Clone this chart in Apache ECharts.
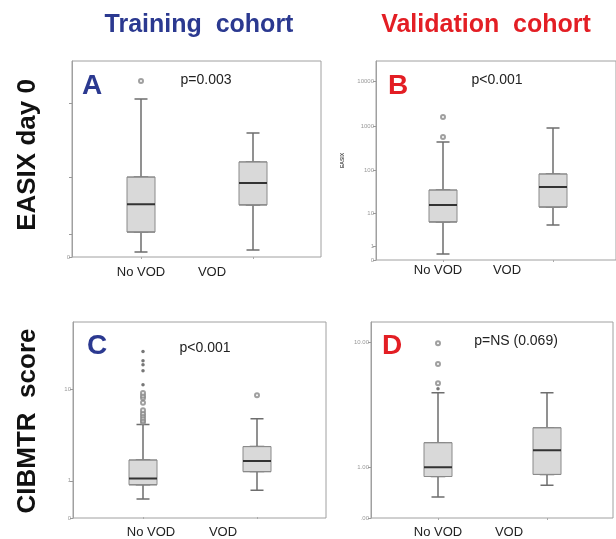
<!DOCTYPE html>
<html>
<head>
<meta charset="utf-8">
<script src="https://cdn.jsdelivr.net/npm/echarts@6/dist/echarts.min.js"></script>
<style>
html,body{margin:0;padding:0;background:#fff;}
#chart{width:616px;height:539px;}
</style>
</head>
<body>
<div id="chart"></div>
<script>
// ---- data (y axes are log10(x+1) scales) ----
const categories = ['No VOD', 'VOD'];

// Panel A: EASIX day 0, training cohort
const aLow = [0.16, 0.23];
const aQ1 = [1.12, 3.8];
const aMed = [3.9, 8.3];
const aQ3 = [10.1, 16.5];
const aHigh = [115, 40.8];
const aOutNoVod = [199];
const aOutVod = [];
const aTicks = [0, 1, 10, 100];
const aTickLabels = ['0', '', '', ''];

// Panel B: EASIX day 0, validation cohort
const bLow = [0.36, 5.1];
const bQ1 = [6.1, 14.3];
const bMed = [16, 42];
const bQ3 = [35.8, 83];
const bHigh = [436, 897];
const bOutNoVod = [564, 1581];
const bOutVod = [];
const bTicks = [0, 1, 10, 100, 1000, 10000];
const bTickLabels = ['0', '1', '10', '100', '1000', '10000'];

// Panel C: CIBMTR score, training cohort
const cLow = [0.40, 0.65];
const cQ1 = [0.83, 1.34];
const cMed = [1.06, 1.86];
const cQ3 = [1.91, 2.74];
const cHigh = [4.66, 5.3];
const cOutNoVod = [4.9, 5.1, 5.4, 5.7, 6.0, 6.4, 7.5, 8.3, 8.7, 9.2];
const cOutVod = [8.8];
const cExtremeNoVod = [10.9, 14.5, 16.3, 17.7, 21.2];
const cTicks = [0, 1, 10];
const cTickLabels = ['0', '1', '10'];

// Panel D: CIBMTR score, validation cohort
const dLow = [0.33, 0.56];
const dQ1 = [0.76, 0.81];
const dMed = [1.00, 1.52];
const dQ3 = [1.79, 2.42];
const dHigh = [4.51, 4.51];
const dOutNoVod = [5.27, 7.15, 9.8];
const dOutVod = [];
const dExtremeNoVod = [4.82];
const dTicks = [0, 1, 10];
const dTickLabels = ['.00', '1.00', '10.00'];

// ---- chart ----
const FONT = '"Liberation Sans", Arial, sans-serif';
const shift = v => v + 1; // axis shows log10(x + 1)

const grid = [], xAxis = [], yAxis = [], series = [];

function panel(p) {
  const fi = grid.length;
  grid.push({left: p.frame[0], top: p.frame[1], width: p.frame[2], height: p.frame[3],
    show: true, borderColor: '#a0a0a0', borderWidth: 1, backgroundColor: '#fff', containLabel: false});
  const pi = grid.length;
  grid.push({left: p.plot[0], top: p.frame[1], width: p.plot[1], height: p.frame[3], containLabel: false});

  const tickVals = p.ticks.map(shift);
  const labelMap = {};
  p.ticks.forEach((t, i) => { labelMap[Math.round(shift(t))] = p.tickLabels[i]; });

  // frame axes (visible y axis)
  xAxis.push({type: 'category', gridIndex: fi, data: categories, show: false});
  yAxis.push({type: 'log', logBase: 10, gridIndex: fi, min: 1, max: p.max,
    name: p.yName || '', nameLocation: 'middle', nameGap: 31, nameRotate: 90,
    nameTextStyle: {fontSize: 5, color: '#555', fontFamily: FONT, fontWeight: 'bold'},
    axisLine: {show: true, lineStyle: {color: '#a0a0a0', width: 1}},
    axisTick: {show: true, length: 3, customValues: tickVals, lineStyle: {color: '#999'}},
    axisLabel: {customValues: tickVals, fontSize: 6, color: '#999', margin: 2, fontFamily: FONT,
      formatter: v => { const k = Math.round(v); return labelMap[k] !== undefined ? labelMap[k] : ''; }},
    splitLine: {show: false}, minorTick: {show: false}});

  // plot axes: one visible category axis + hidden twins so the boxplot layers overlap
  const axisIdx = [];
  for (let k = 0; k < 3; k++) {
    if (k === 0) {
      xAxis.push({type: 'category', gridIndex: pi, data: categories,
        axisLine: {show: false},
        axisTick: {show: true, alignWithLabel: true, length: 2, lineStyle: {color: '#aaa'}},
        axisLabel: {margin: p.labelMargin, interval: 0,
          formatter: (v, i) => i === 0 ? '{a|' + v + '}' : '{b|' + v + '}',
          rich: {
            a: {fontSize: 13, color: '#222', fontFamily: FONT, padding: p.padA},
            b: {fontSize: 13, color: '#222', fontFamily: FONT, padding: p.padB}
          }}});
    } else {
      xAxis.push({type: 'category', gridIndex: pi, data: categories, show: false});
    }
    yAxis.push({type: 'log', logBase: 10, gridIndex: pi, min: 1, max: p.max, show: false,
      splitLine: {show: false}});
    axisIdx.push([xAxis.length - 1, yAxis.length - 1]);
  }

  const n = categories.length;
  const whisk = [], box = [], med = [];
  for (let i = 0; i < n; i++) {
    whisk.push([p.low[i], p.q1[i], p.q1[i], p.q3[i], p.high[i]].map(shift));
    box.push([p.q1[i], p.q1[i], p.q1[i], p.q3[i], p.q3[i]].map(shift));
    med.push([p.med[i], p.med[i], p.med[i], p.med[i], p.med[i]].map(shift));
  }
  series.push({type: 'boxplot', xAxisIndex: axisIdx[0][0], yAxisIndex: axisIdx[0][1], data: whisk,
    boxWidth: [13, 13], z: 2,
    itemStyle: {color: '#d9d9d9', borderColor: '#6e6e6e', borderWidth: 1.5}, silent: true});
  series.push({type: 'boxplot', xAxisIndex: axisIdx[1][0], yAxisIndex: axisIdx[1][1], data: box,
    boxWidth: [28, 28], z: 3,
    itemStyle: {color: '#d9d9d9', borderColor: '#8a8a8a', borderWidth: 1}, silent: true});
  series.push({type: 'boxplot', xAxisIndex: axisIdx[2][0], yAxisIndex: axisIdx[2][1], data: med,
    boxWidth: [28, 28], z: 4,
    itemStyle: {color: 'rgba(0,0,0,0)', borderColor: '#333', borderWidth: 2}, silent: true});

  const hollow = [];
  p.outNoVod.forEach(v => hollow.push([0, shift(v)]));
  p.outVod.forEach(v => hollow.push([1, shift(v)]));
  series.push({type: 'scatter', xAxisIndex: axisIdx[0][0], yAxisIndex: axisIdx[0][1], data: hollow,
    symbol: 'emptyCircle', symbolSize: 4, z: 5,
    itemStyle: {color: '#888', borderColor: '#888', borderWidth: 1}, silent: true});
  if (p.extreme) {
    const ext = p.extreme.map(v => [0, shift(v)]);
    series.push({type: 'scatter', xAxisIndex: axisIdx[0][0], yAxisIndex: axisIdx[0][1], data: ext,
      symbol: 'circle', symbolSize: 3.5, z: 5, itemStyle: {color: '#555'}, silent: true});
  }
}

panel({frame: [72, 61, 249, 196], plot: [85, 224], max: 365,
  low: aLow, q1: aQ1, med: aMed, q3: aQ3, high: aHigh, outNoVod: aOutNoVod, outVod: aOutVod,
  ticks: aTicks, tickLabels: aTickLabels, labelMargin: 9, padA: [0, 0, 0, 0], padB: [0, 82, 0, 0]});
panel({frame: [376, 61, 244, 199], plot: [388, 220], max: 28300, yName: 'EASIX',
  low: bLow, q1: bQ1, med: bMed, q3: bQ3, high: bHigh, outNoVod: bOutNoVod, outVod: bOutVod,
  ticks: bTicks, tickLabels: bTickLabels, labelMargin: 4, padA: [0, 10, 0, 0], padB: [0, 92, 0, 0]});
panel({frame: [73, 322, 253, 196], plot: [86, 228], max: 38.6,
  low: cLow, q1: cQ1, med: cMed, q3: cQ3, high: cHigh, outNoVod: cOutNoVod, outVod: cOutVod,
  extreme: cExtremeNoVod,
  ticks: cTicks, tickLabels: cTickLabels, labelMargin: 9, padA: [0, 0, 0, 16], padB: [0, 68, 0, 0]});
panel({frame: [371, 322, 242, 196], plot: [383.5, 218], max: 14.45,
  low: dLow, q1: dQ1, med: dMed, q3: dQ3, high: dHigh, outNoVod: dOutNoVod, outVod: dOutVod,
  extreme: dExtremeNoVod,
  ticks: dTicks, tickLabels: dTickLabels, labelMargin: 8, padA: [0, 0, 0, 0], padB: [0, 76, 0, 0]});

function txt(text, x, y, font, fill, rot) {
  return {type: 'text', x: x, y: y, rotation: rot || 0, z: 100, silent: true,
    style: {text: text, font: font, fill: fill, textAlign: 'center', textVerticalAlign: 'middle'}};
}
const BLUE = '#2b3990', RED = '#e31e24';
const graphic = [
  txt('Training  cohort', 199, 25, 'bold 25px ' + FONT, BLUE),
  txt('Validation  cohort', 486, 25, 'bold 25px ' + FONT, RED),
  txt('EASIX day 0', 28, 155, 'bold 26px ' + FONT, '#111', Math.PI / 2),
  txt('CIBMTR  score', 28, 421, 'bold 26px ' + FONT, '#111', Math.PI / 2),
  txt('A', 92, 86, 'bold 28px ' + FONT, BLUE),
  txt('B', 398, 86, 'bold 28px ' + FONT, RED),
  txt('C', 97, 346, 'bold 28px ' + FONT, BLUE),
  txt('D', 392, 346, 'bold 28px ' + FONT, RED),
  txt('p=0.003', 206, 80, '14px ' + FONT, '#222'),
  txt('p<0.001', 497, 80, '14px ' + FONT, '#222'),
  txt('p<0.001', 205, 348, '14px ' + FONT, '#222'),
  txt('p=NS (0.069)', 516, 341, '14px ' + FONT, '#222')
];

const chart = echarts.init(document.getElementById('chart'), null, {renderer: 'canvas'});
chart.setOption({
  animation: false,
  backgroundColor: '#fff',
  grid: grid, xAxis: xAxis, yAxis: yAxis, series: series, graphic: graphic
});
</script>
</body>
</html>
